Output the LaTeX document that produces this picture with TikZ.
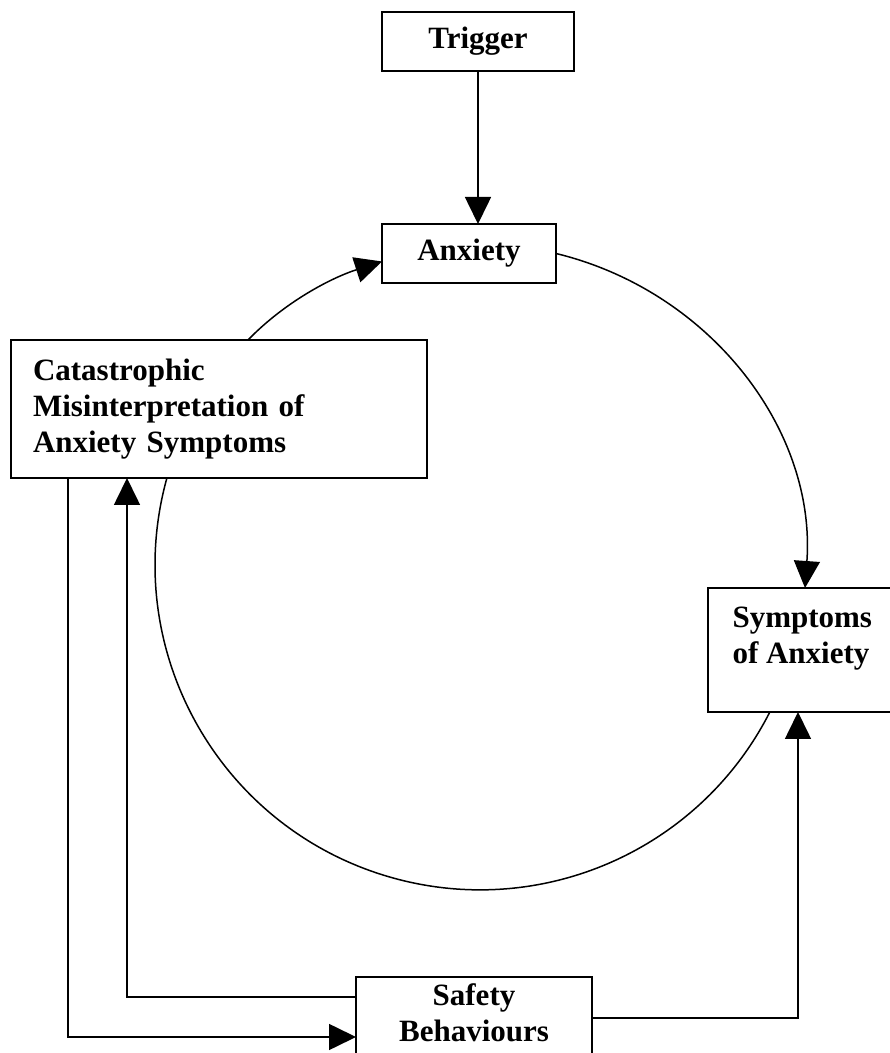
\documentclass[tikz,border=0pt]{standalone}
\usepackage{fontspec}
\setmainfont{Liberation Serif}
\usetikzlibrary{arrows.meta}
\begin{document}
\begin{tikzpicture}[x=1pt,y=1pt,
  every node/.style={font=\bfseries\fontsize{31}{36}\selectfont},
  box/.style={draw, line width=2.3pt, inner sep=0pt, outer sep=0pt},
  arr/.style={line width=1.6pt, -{Triangle[length=27pt,width=26pt]}},
  ring/.style={line width=1.5pt}]
\useasboundingbox (0,0) rectangle (890,1053);
\fill[white] (0,0) rectangle (890,1053);
\clip (0,0) rectangle (890,1053);

% boxes
\node[box, minimum width=192, minimum height=59] (trg) at (478,1011.5) {Trigger};
\node[box, minimum width=174, minimum height=59] (anx) at (469,799.5) {Anxiety};
\node[box, minimum width=416, minimum height=138, text width=372, inner xsep=22,
      align=left] (cat) at (219,644)
  {Catastrophic\\Misinterpretation of\\Anxiety Symptoms};
\node[box, minimum width=194, minimum height=124] (sym) at (805,403) {};
\node[anchor=west, align=left] (symt) at (729,414) {Symptoms\\of Anxiety};
\node[box, minimum width=236, minimum height=86] (saf) at (474,33) {};
\node[align=center] (saft) at (474,40) {Safety\\Behaviours};

% trigger into anxiety
\draw[arr] (trg.south) -- (trg.south |- anx.north);

% the vicious circle
\draw[arr, ring] (anx.east) .. controls +(154.1,-37.4) and +(11.2,158.2) .. (sym.north);
\draw[arr, ring] ([xshift=237pt]cat.north west) .. controls +(37,38.2) and +(-50.6,-16.3)
  .. ([yshift=-8pt]anx.west);
\draw[ring] ([xshift=155.9pt]cat.south west) arc[start angle=164.5, end angle=333.1, radius=325pt];

% safety behaviour loops
\coordinate (lo) at (68,16);
\coordinate (li) at (127,56);
\coordinate (lr) at (798,35);
\draw[arr] (lo |- cat.south) -- (lo) -- (lo -| saf.west);
\draw[arr] (li -| saf.west) -- (li) -- (li |- cat.south);
\draw[arr] (lr -| saf.east) -- (lr) -- (lr |- sym.south);
\end{tikzpicture}
\end{document}
